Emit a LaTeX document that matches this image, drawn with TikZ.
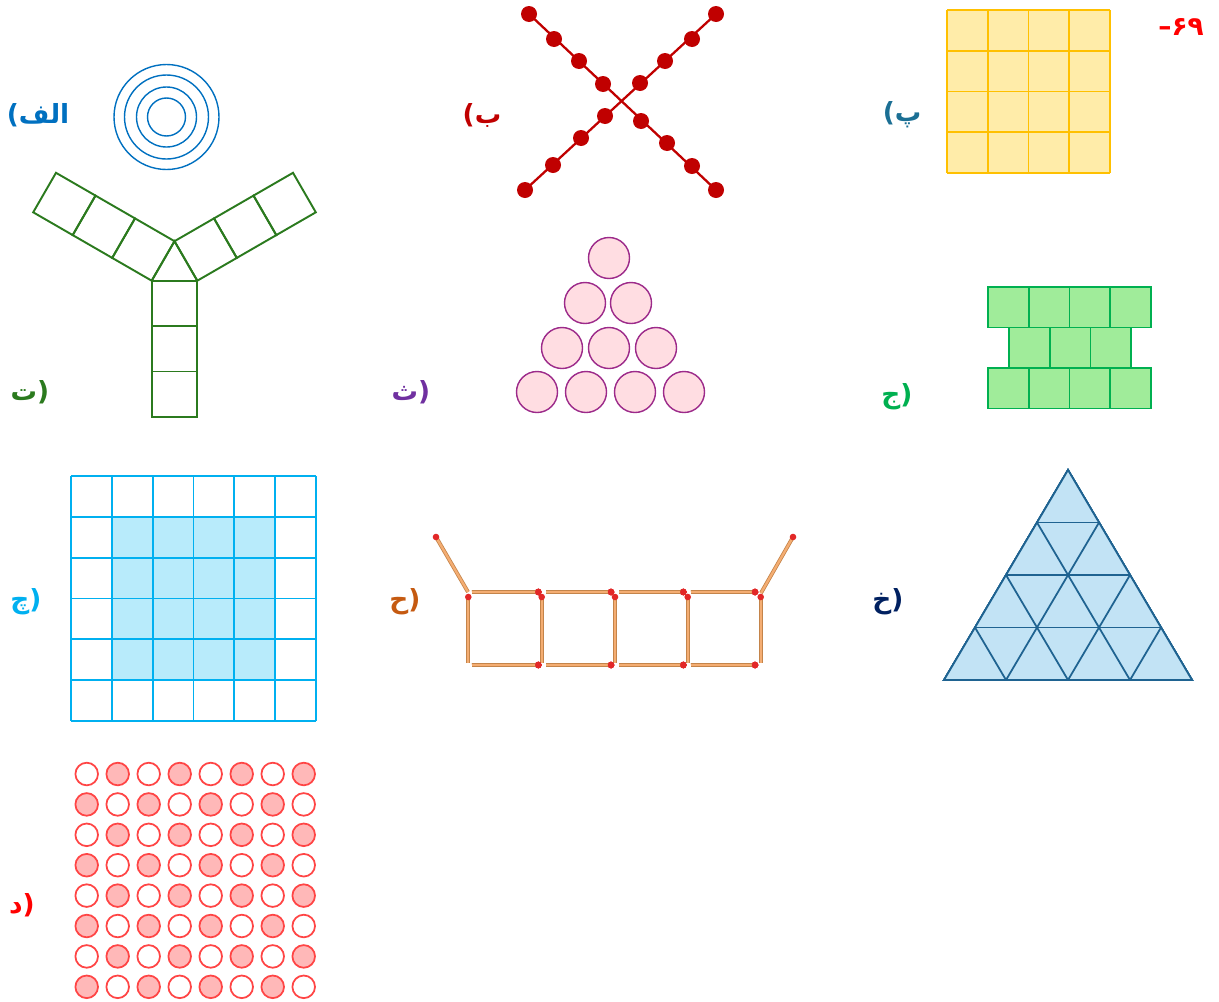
\documentclass[tikz,border=0pt]{standalone}
\usepackage{fontspec}
\setmainfont{DejaVu Sans}
\newfontfamily\arabicfont[Script=Arabic]{DejaVu Sans}
\TeXXeTstate=1
\usetikzlibrary{calc}
\definecolor{FigAlef}{HTML}{0070C0}
\definecolor{FigBe}{HTML}{C00000}
\definecolor{FigPe}{HTML}{1B6F94}
\definecolor{FigPeFill}{HTML}{FFECA9}
\definecolor{FigPeLine}{HTML}{FFC000}
\definecolor{FigTe}{HTML}{2B7A1E}
\definecolor{FigSe}{HTML}{7030A0}
\definecolor{FigSeFill}{HTML}{FFDDE2}
\definecolor{FigSeLine}{HTML}{9C2A8A}
\definecolor{FigJim}{HTML}{00B050}
\definecolor{FigJimFill}{HTML}{A0EC9A}
\definecolor{FigChe}{HTML}{00B0F0}
\definecolor{FigCheFill}{HTML}{B8EBFB}
\definecolor{FigHe}{HTML}{C55A11}
\definecolor{FigWood}{HTML}{F4AD72}
\definecolor{FigWoodDark}{HTML}{C4844A}
\definecolor{FigHead}{HTML}{E22828}
\definecolor{FigKhe}{HTML}{002060}
\definecolor{FigKheFill}{HTML}{C2E3F5}
\definecolor{FigKheLine}{HTML}{1F6391}
\definecolor{FigDal}{HTML}{FF0000}
\definecolor{FigDalFill}{HTML}{FFB8B8}
\definecolor{FigDalLine}{HTML}{FF4545}
\newcommand{\matchstick}[2]{\draw[match edge] #1 -- #2; \draw[match] #1 -- #2; \fill[FigHead] #2 circle (3.3);}
\newcommand{\plainbit}[1]{\hbox{\normalfont\bfseries#1}}
\newcommand{\arbit}[1]{\hbox{\beginR #1\endR}}

\begin{document}
\begin{tikzpicture}[
        x=0.02cm,y=-0.02cm,
        lbl/.style={font=\arabicfont\bfseries\fontsize{15}{17}\selectfont,inner sep=0pt},
        thin line/.style={line width=0.8pt},
        match edge/.style={line width=2.2pt,FigWoodDark},
        match/.style={line width=1.3pt,FigWood}
      ]
        \useasboundingbox (0,0) rectangle (1219,1001);
        % labels
        \node[lbl,text=FigDal] (lnum) at (1181,27) {\plainbit{–}\hbox{۶۹}};
        \node[lbl,text=FigAlef] (lalef) at (38,115) {\plainbit{(}\arbit{الف}};
        \node[lbl,text=FigBe] (lbe) at (482,115) {\plainbit{(}\arbit{ب}};
        \node[lbl,text=FigPe] (lpe) at (902,115) {\plainbit{(}\arbit{پ}};
        \node[lbl,text=FigTe] (lte) at (30,392) {\arbit{ت}\plainbit{)}};
        \node[lbl,text=FigSe] (lse) at (411,392) {\arbit{ث}\plainbit{)}};
        \node[lbl,text=FigJim] (ljim) at (897,397) {\arbit{ج}\plainbit{)}};
        \node[lbl,text=FigChe] (lche) at (26,602) {\arbit{چ}\plainbit{)}};
        \node[lbl,text=FigHe] (lhe) at (405,602) {\arbit{ح}\plainbit{)}};
        \node[lbl,text=FigKhe] (lkhe) at (888,602) {\arbit{خ}\plainbit{)}};
        \node[lbl,text=FigDal] (ldal) at (22,905) {\arbit{د}\plainbit{)}};
        % alef: rings
        \foreach \r in {52.5,42,30,19}
          \draw[thin line,FigAlef] (166.5,117) circle (\r);
        % be: cross of beads
        \draw[line width=1.3pt,FigBe] (529,14) -- (716,190);
        \draw[line width=1.3pt,FigBe] (716,14) -- (525,190);
        \foreach \p in {(529,14),(554,39),(579,61),(603,84),(641,121),(667,143),(692,166),(716,190),
                        (716,14),(692,39),(665,61),(640,83),(605,116),(581,138),(553,165),(525,190)}
          \fill[FigBe] \p circle (8);
        % pe: 4x4 grid
        \fill[FigPeFill] (947,10) rectangle (1110,173);
        \foreach \i in {0,...,4} {
          \draw[line width=1pt,FigPeLine] ({947+40.75*\i},10) -- ({947+40.75*\i},173);
          \draw[line width=1pt,FigPeLine] (947,{10+40.75*\i}) -- (1110,{10+40.75*\i});
        }
        % te: three arms
        \foreach \k in {0,1,2} {
          \draw[line width=1.1pt,FigTe] (151.7,{280.7+45.4*\k}) rectangle (197.3,{326.1+45.4*\k});
          \draw[line width=1.1pt,FigTe] ({151.7-39.5*\k},{280.7-22.8*\k}) -- ({174.5-39.5*\k},{241.2-22.8*\k})
            -- ({174.5-39.5*(\k+1)},{241.2-22.8*(\k+1)}) -- ({151.7-39.5*(\k+1)},{280.7-22.8*(\k+1)}) -- cycle;
          \draw[line width=1.1pt,FigTe] ({197.3+39.5*\k},{280.7-22.8*\k}) -- ({174.5+39.5*\k},{241.2-22.8*\k})
            -- ({174.5+39.5*(\k+1)},{241.2-22.8*(\k+1)}) -- ({197.3+39.5*(\k+1)},{280.7-22.8*(\k+1)}) -- cycle;
        }
        \draw[line width=1.1pt,FigTe] (151.7,280.7) -- (174.5,241.2) -- (197.3,280.7);
        % se: pile of balls
        \foreach \p in {(609,258),(585,303),(631,303),(562,348),(609,348),(656,348),
                        (537,392),(586,392),(635,392),(684,392)}
          \draw[thin line,draw=FigSeLine,fill=FigSeFill] \p circle (20.5);
        % jim: brick wall
        \foreach \i in {0,...,3} {
          \draw[line width=0.9pt,draw=FigJim,fill=FigJimFill] ({988+40.75*\i},287) rectangle +(40.75,40.5);
          \draw[line width=0.9pt,draw=FigJim,fill=FigJimFill] ({988+40.75*\i},368) rectangle +(40.75,40.5);
        }
        \foreach \i in {0,1,2}
          \draw[line width=0.9pt,draw=FigJim,fill=FigJimFill] ({1009+40.75*\i},327.5) rectangle +(40.75,40.5);
        % che: 6x6 grid with filled core
        \fill[FigCheFill] (111.8,516.8) rectangle (275.2,680.2);
        \foreach \i in {0,...,6} {
          \draw[line width=1pt,FigChe] ({71+40.83*\i},476) -- ({71+40.83*\i},721);
          \draw[line width=1pt,FigChe] (71,{476+40.83*\i}) -- (316,{476+40.83*\i});
        }
        % he: matchsticks
        \matchstick{(468,592)}{(436,537)}
        \matchstick{(761,593)}{(793,537)}
        \foreach \x in {468.3,541.7,615,687.7,760.7}
          \matchstick{(\x,663)}{(\x,597)}
        \foreach \a/\b in {471.7/538.3,546/611,619.3/683.3,690.7/755} {
          \matchstick{(\a,592)}{(\b,592)}
          \matchstick{(\a,665)}{(\b,665)}
        }
        % khe: triangle of triangles
        \draw[line width=1pt,draw=FigKheLine,fill=FigKheFill] (1068,470) -- (1192,680) -- (944,680) -- cycle;
        \foreach \k in {1,2,3} {
          \draw[line width=1pt,FigKheLine] ({1068-31*\k},{470+52.5*\k}) -- ({1068+31*\k},{470+52.5*\k});
          \draw[line width=1pt,FigKheLine] ({944+62*\k},680) -- ({1068+31*\k},{470+52.5*\k});
          \draw[line width=1pt,FigKheLine] ({1192-62*\k},680) -- ({1068-31*\k},{470+52.5*\k});
        }
        % dal: 8x8 beads
        \foreach \i in {0,...,7}
          \foreach \j in {0,...,7} {
            \pgfmathtruncatemacro{\odd}{mod(\i+\j,2)}
            \ifnum\odd=1
              \draw[line width=1pt,draw=FigDalLine,fill=FigDalFill] ({86.7+31*\j},{774+30.4*\i}) circle (11.3);
            \else
              \draw[line width=1pt,draw=FigDalLine,fill=white] ({86.7+31*\j},{774+30.4*\i}) circle (11.3);
            \fi
          }
      \end{tikzpicture}
\end{document}
